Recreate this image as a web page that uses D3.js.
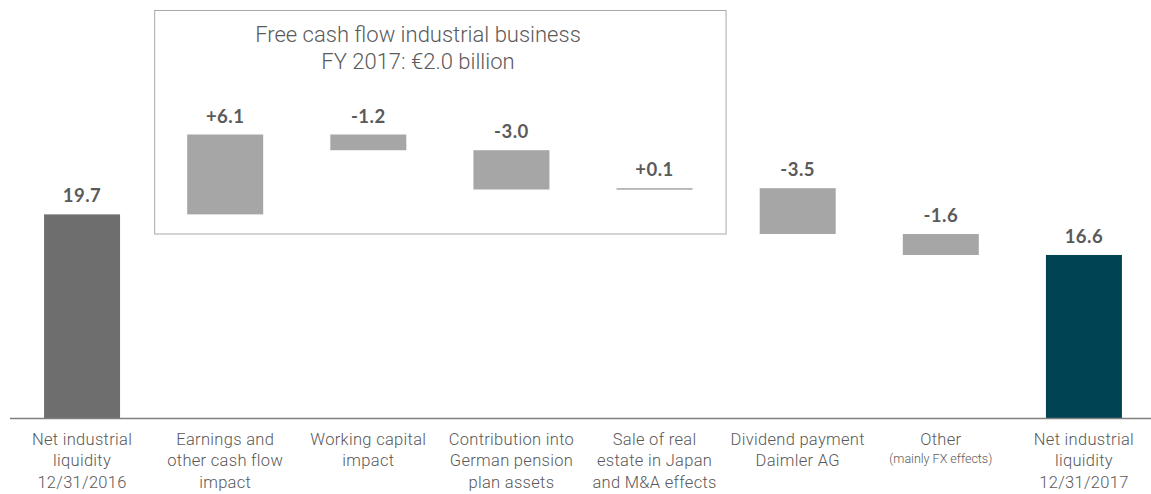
<!DOCTYPE html>
<html>
<head>
<meta charset="utf-8">
<script src="https://cdn.jsdelivr.net/npm/d3@7"></script>
<style>
  html, body { margin: 0; padding: 0; background: #ffffff; }
  svg { display: block; }
</style>
</head>
<body>
<svg id="chart" width="1151" height="494"></svg>
<script>
// ---- data ----
const categories = ["start2016", "earnings", "workingCapital", "pension", "realEstate", "dividend", "other", "end2017"];
const categoryLines = [
  ["Net industrial", "liquidity", "12/31/2016"],
  ["Earnings and", "other cash flow", "impact"],
  ["Working capital", "impact"],
  ["Contribution into", "German pension", "plan assets"],
  ["Sale of real", "estate in Japan", "and M&A effects"],
  ["Dividend payment", "Daimler AG"],
  ["Other", "(mainly FX effects)"],
  ["Net industrial", "liquidity", "12/31/2017"]
];
const values = [19.7, 6.1, -1.2, -3.0, 0.1, -3.5, -1.6, 16.6];
const barTypes = ["total", "delta", "delta", "delta", "delta", "delta", "delta", "total"];
const boxTitle = ["Free cash flow industrial business", "FY 2017: \u20ac2.0 billion"];
const boxCategories = ["earnings", "workingCapital", "pension", "realEstate"];
const axisBreakValue = 4.15; // value axis is truncated (not starting at zero)

// ---- build waterfall ----
let running = 0;
const bars = categories.map((c, i) => {
  let lo, hi;
  if (barTypes[i] === "total") {
    lo = axisBreakValue; hi = values[i]; running = values[i];
  } else {
    const next = running + values[i];
    lo = Math.min(running, next); hi = Math.max(running, next);
    running = next;
  }
  return { cat: c, i, lo, hi, v: values[i], type: barTypes[i] };
});
const fmtDelta = d3.format("+.1f"), fmtTotal = d3.format(".1f");
const labelOf = d => (d.type === "total" ? fmtTotal(d.v) : fmtDelta(d.v)).replace("\u2212", "-");

const svg = d3.select("#chart");
const x = d3.scaleBand().domain(categories).range([10.5, 1155.5]).paddingInner(0.469).paddingOuter(0.2345);
const y = d3.scaleLinear().domain([axisBreakValue, 25.8]).range([418, 134.5]);

const colorOf = d => d.type === "delta" ? "#a6a6a6" : (d.i === 0 ? "#6e6e6e" : "#004352");

// box around FCF components
const bx0 = x(boxCategories[0]) - 33, bx1 = x(boxCategories[boxCategories.length - 1]) + x.bandwidth() + 33;
svg.append("rect")
  .attr("x", bx0 + 0.5).attr("y", 10.5)
  .attr("width", bx1 - bx0).attr("height", 223.5)
  .attr("fill", "none").attr("stroke", "#a9a9a9").attr("stroke-width", 1);

const titleCx = 418;
svg.append("g").selectAll("text").data(boxTitle).join("text")
  .attr("x", titleCx).attr("y", (d, i) => 42 + i * 27)
  .attr("text-anchor", "middle")
  .attr("font-family", "Roboto, 'Noto Sans', sans-serif")
  .attr("font-weight", 300)
  .attr("font-size", 22)
  .attr("fill", "#5a5a5a")
  .text(d => d);

// bars
svg.append("g").selectAll("rect").data(bars).join("rect")
  .attr("x", d => x(d.cat))
  .attr("y", d => y(d.hi))
  .attr("width", x.bandwidth())
  .attr("height", d => Math.max(1.5, y(d.lo) - y(d.hi)))
  .attr("fill", colorOf);

// value labels
svg.append("g").selectAll("text").data(bars).join("text")
  .attr("x", d => x(d.cat) + x.bandwidth() / 2)
  .attr("y", d => y(d.hi) - 12)
  .attr("text-anchor", "middle")
  .attr("font-family", "Lato, 'Open Sans', sans-serif")
  .attr("font-weight", 700)
  .attr("font-size", 18.5)
  .attr("letter-spacing", 0.5)
  .attr("fill", "#5a5a5a")
  .text(labelOf);

// baseline
svg.append("line")
  .attr("x1", 10).attr("x2", 1151)
  .attr("y1", y(axisBreakValue) + 0.5).attr("y2", y(axisBreakValue) + 0.5)
  .attr("stroke", "#7f7f7f").attr("stroke-width", 1.5);

// category labels
const catG = svg.append("g").selectAll("g").data(categories).join("g")
  .attr("transform", d => `translate(${x(d) + x.bandwidth() / 2},0)`);
catG.each(function (d, i) {
  const g = d3.select(this);
  categoryLines[i].forEach((line, j) => {
    const small = line.startsWith("(");
    g.append("text")
      .attr("x", 0).attr("y", 444.5 + j * 21.5 - (small ? 3 : 0))
      .attr("text-anchor", "middle")
      .attr("font-family", "Roboto, 'Noto Sans', sans-serif")
      .attr("font-weight", 300)
      .attr("font-size", small ? 12.5 : 16.5)
      .attr("letter-spacing", small ? 0 : 0.3)
      .attr("fill", "#595959")
      .text(line);
  });
});
</script>
</body>
</html>
